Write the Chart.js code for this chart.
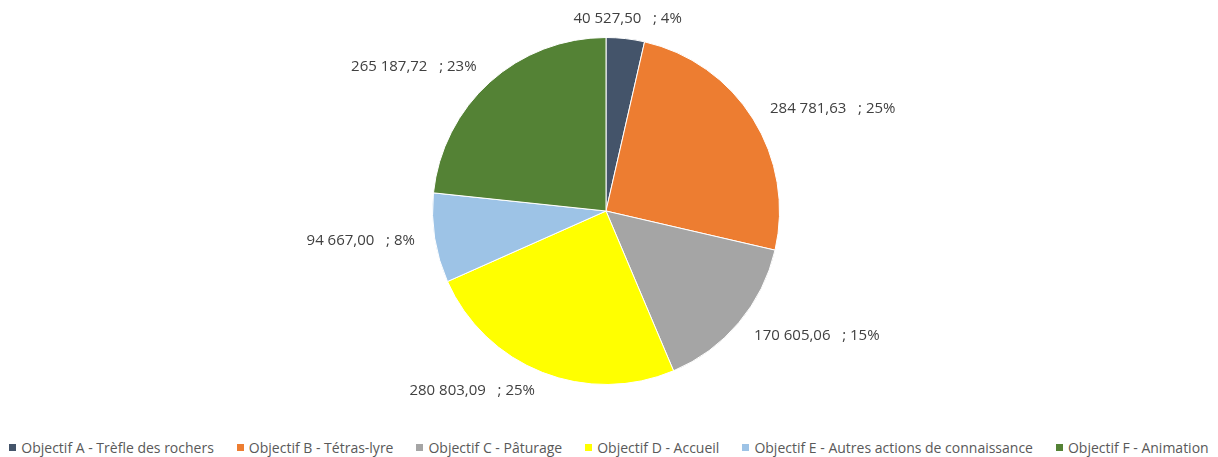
<!DOCTYPE html>
<html>
<head>
<meta charset="utf-8">
<script src="https://cdn.jsdelivr.net/npm/chart.js@4"></script>
<style>
  html, body { margin: 0; padding: 0; background: #fff; }
  #wrap { width: 1218px; height: 457px; position: relative; overflow: hidden; }
  #chartBox { position: absolute; left: 0; top: 0; width: 1218px; height: 420px; }
  #legend {
    position: absolute; left: 0; top: 438px; width: 1218px;
    display: flex; justify-content: center; gap: 23px;
    font: 14px "Open Sans", sans-serif; color: #595959; white-space: nowrap;
  }
  #legend .item { display: flex; align-items: center; }
  #legend .box { width: 7px; height: 7px; margin-right: 5px; }
</style>
</head>
<body>
<div id="wrap">
  <div id="chartBox"><canvas id="myChart"></canvas></div>
  <div id="legend"></div>
</div>
<script>
// Data
const categories = [
    'Objectif A - Trèfle des rochers',
    'Objectif B - Tétras-lyre',
    'Objectif C - Pâturage',
    'Objectif D - Accueil',
    'Objectif E - Autres actions de connaissance',
    'Objectif F - Animation'
];
const amounts = [40527.50, 284781.63, 170605.06, 280803.09, 94667.00, 265187.72];
const sliceColors = ['#44546A', '#ED7D31', '#A5A5A5', '#FFFF00', '#9DC3E6', '#548235'];

// French style number: 284 781,63
function formatAmount(v) {
    const parts = v.toFixed(2).split('.');
    const intPart = parts[0].replace(/\B(?=(\d{3})+(?!\d))/g, ' ');
    return intPart + ',' + parts[1];
}

// Draw "value ; pct" labels just outside each slice
const outsideLabels = {
    id: 'outsideLabels',
    afterDatasetsDraw(chart) {
        const ctx = chart.ctx;
        const meta = chart.getDatasetMeta(0);
        const data = chart.data.datasets[0].data;
        const total = data.reduce((a, b) => a + b, 0);
        ctx.save();
        ctx.font = '15px "Open Sans", sans-serif';
        ctx.fillStyle = '#404040';
        ctx.textBaseline = 'middle';
        meta.data.forEach((arc, i) => {
            const mid = (arc.startAngle + arc.endAngle) / 2;
            const r = arc.outerRadius + 20;
            const x = arc.x + Math.cos(mid) * r;
            const y = arc.y + Math.sin(mid) * r;
            const c = Math.cos(mid);
            if (Math.abs(c) < 0.3) ctx.textAlign = 'center';
            else ctx.textAlign = c > 0 ? 'left' : 'right';
            const pct = Math.round(data[i] / total * 100);
            ctx.fillText(formatAmount(data[i]) + '   ; ' + pct + '%', x, y);
        });
        ctx.restore();
    }
};

// HTML legend under the chart
function buildLegend() {
    const legend = document.getElementById('legend');
    legend.innerHTML = '';
    categories.forEach((name, i) => {
        const item = document.createElement('div');
        item.className = 'item';
        item.innerHTML = `<span class="box" style="background:${sliceColors[i]}"></span><span>${name}</span>`;
        legend.appendChild(item);
    });
}

const ctx = document.getElementById('myChart').getContext('2d');
const myChart = new Chart(ctx, {
    type: 'pie',
    data: {
        labels: categories,
        datasets: [{
            data: amounts,
            backgroundColor: sliceColors,
            borderColor: '#ffffff',
            borderWidth: 1
        }]
    },
    options: {
        responsive: true,
        maintainAspectRatio: false,
        animation: false,
        layout: { padding: { top: 37, bottom: 35, right: 6 } },
        plugins: {
            legend: { display: false },
            tooltip: { enabled: false }
        }
    },
    plugins: [outsideLabels]
});

buildLegend();
</script>
</body>
</html>
